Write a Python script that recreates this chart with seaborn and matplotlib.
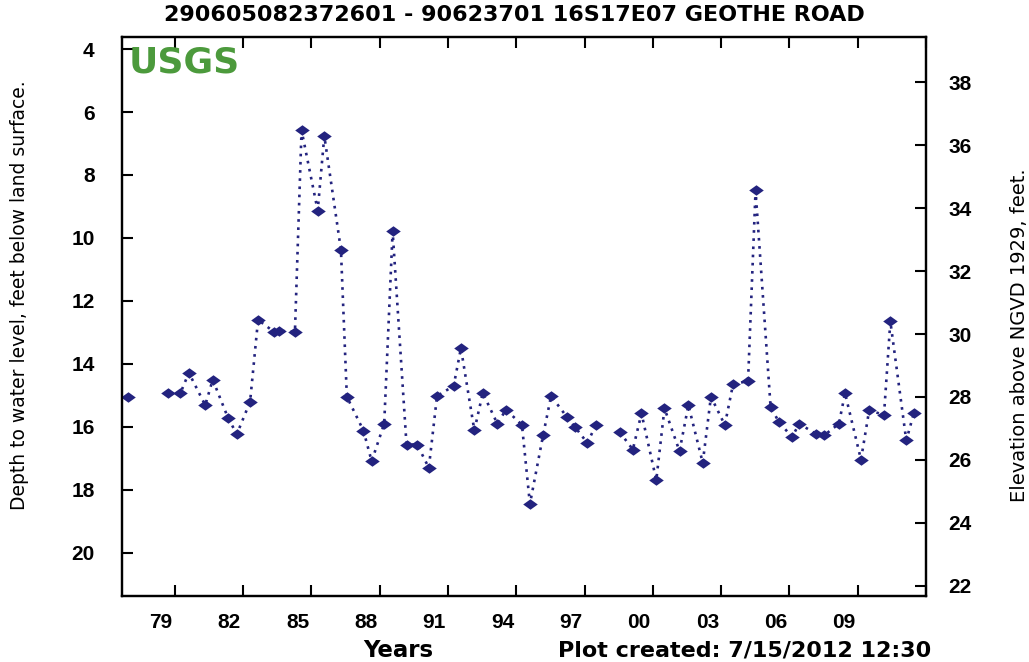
# Groundwater level hydrograph, USGS style
import numpy as np
import pandas as pd
import matplotlib
matplotlib.use("Agg")
import matplotlib.pyplot as plt
import seaborn as sns

# -------------------------------------------------------
# DATA
# -------------------------------------------------------
years = [1976.96, 1978.71, 1979.25, 1979.62, 1980.34, 1980.67, 1981.35, 1981.73,
         1982.31, 1982.66, 1983.36, 1983.58, 1984.28, 1984.57, 1985.28, 1985.57,
         1986.30, 1986.56, 1987.29, 1987.65, 1988.20, 1988.57, 1989.18, 1989.65,
         1990.16, 1990.52, 1991.25, 1991.57, 1992.16, 1992.53, 1993.17, 1993.55,
         1994.25, 1994.60, 1995.18, 1995.53, 1996.23, 1996.59, 1997.12, 1997.50,
         1998.55, 1999.12, 1999.50, 2000.15, 2000.51, 2001.17, 2001.56, 2002.19,
         2002.55, 2003.16, 2003.52, 2004.18, 2004.51, 2005.17, 2005.53, 2006.11,
         2006.43, 2007.16, 2007.52, 2008.17, 2008.44, 2009.14, 2009.50, 2010.15,
         2010.43, 2011.13, 2011.46]
depth = [15.04, 14.93, 14.93, 14.28, 15.31, 14.50, 15.73, 16.23,
         15.20, 12.60, 12.98, 12.95, 12.98, 6.58, 9.13, 6.76,
         10.38, 15.04, 16.12, 17.09, 15.90, 9.79, 16.56, 16.56,
         17.30, 15.02, 14.70, 13.50, 16.11, 14.92, 15.90, 15.45,
         15.94, 18.45, 16.26, 15.02, 15.69, 16.01, 16.51, 15.94,
         16.17, 16.72, 15.57, 17.69, 15.41, 16.77, 15.31, 17.14,
         15.04, 15.94, 14.65, 14.54, 8.49, 15.36, 15.84, 16.32,
         15.90, 16.22, 16.27, 15.90, 14.93, 17.04, 15.47, 15.62,
         12.65, 16.43, 15.57]

tick_years = list(range(1979, 2013, 3))
tick_labels = ["79", "82", "85", "88", "91", "94", "97", "00", "03", "06", "09", ""]
left_ticks = [4, 6, 8, 10, 12, 14, 16, 18, 20]
right_ticks = [22, 24, 26, 28, 30, 32, 34, 36, 38]
land_surface = 43.05  # elevation = land_surface - depth

title = "290605082372601 - 90623701 16S17E07 GEOTHE ROAD"

# -------------------------------------------------------
# BUILD TABLE (break line where gap > 1 year)
# -------------------------------------------------------
df = pd.DataFrame({"year": years, "depth": depth})
df["seg"] = (df["year"].diff() > 1.0).cumsum()

# -------------------------------------------------------
# PLOT
# -------------------------------------------------------
sns.set_style("ticks")
plt.rcParams["font.family"] = ["Liberation Sans", "DejaVu Sans"]
plt.rcParams["text.color"] = "black"
plt.rcParams["xtick.color"] = "black"
plt.rcParams["ytick.color"] = "black"
wide = ["DejaVu Sans"]

navy = "#23237f"
fig = plt.figure(figsize=(10.29, 6.62), dpi=100)
ax = fig.add_axes([0.1189, 0.0997, 0.9 - 0.1189, 0.944 - 0.0997])

sns.lineplot(data=df, x="year", y="depth", units="seg", estimator=None,
             color=navy, linewidth=1.9, linestyle=(0, (1, 2.1)), ax=ax)
diamond = [(-1, 0), (0, 0.72), (1, 0), (0, -0.72), (-1, 0)]
sns.scatterplot(data=df, x="year", y="depth", marker=diamond, s=110,
                color=navy, edgecolor=navy, linewidth=0, ax=ax, zorder=3)

ax.set_xlim(1976.70, 2011.75)
ax.set_ylim(21.37, 3.62)

# x ticks: marks at year, labels slightly to the left
ax.set_xticks(tick_years)
ax.set_xticklabels([])
ax.set_xticks([t - 0.6 for t in tick_years], minor=True)
ax.set_xticklabels(tick_labels, minor=True)
ax.tick_params(axis="x", which="major", direction="in", length=8, width=1.5,
               top=True, bottom=True)
ax.tick_params(axis="x", which="minor", length=0, pad=12, labelsize=15)
for lab in ax.get_xticklabels(minor=True):
    lab.set_fontweight("bold")

ax.set_yticks(left_ticks)
ax.tick_params(axis="y", direction="in", length=8, width=1.5, pad=20, labelsize=15)
for lab in ax.get_yticklabels():
    lab.set_fontweight("bold")

ax.set_xlabel("")
ax.set_ylabel("")
for sp in ax.spines.values():
    sp.set_visible(True)
    sp.set_linewidth(1.6)
    sp.set_color("black")

# right axis: elevation
ax2 = ax.twinx()
ax2.set_ylim(land_surface - 21.37, land_surface - 3.62)
ax2.set_yticks(right_ticks)
ax2.tick_params(axis="y", direction="in", length=8, width=1.5, pad=16, labelsize=15)
for lab in ax2.get_yticklabels():
    lab.set_fontweight("bold")
for sp in ax2.spines.values():
    sp.set_linewidth(1.6)
    sp.set_color("black")

# texts
ax.text(0.0075, 0.985, "USGS", transform=ax.transAxes, ha="left", va="top",
        fontsize=26, fontweight="bold", color="#4c9a3c", family=wide)
fig.text(0.5, 0.977, title, ha="center", va="center", fontsize=16,
         fontweight="bold", family=wide)
fig.text(0.387, 0.018, "Years", ha="center", va="center", fontsize=16.5,
         fontweight="bold", family=wide)
fig.text(0.724, 0.018, "Plot created: 7/15/2012 12:30", ha="center", va="center",
         fontsize=16, fontweight="bold", family=wide)
fig.text(0.019, 0.554, "Depth to water level, feet below land surface.", rotation=90,
         ha="center", va="center", fontsize=13.5, family=wide)
fig.text(0.991, 0.494, "Elevation above NGVD 1929, feet.", rotation=90,
         ha="center", va="center", fontsize=14, family=wide)

fig.savefig("out.png", dpi=100)
